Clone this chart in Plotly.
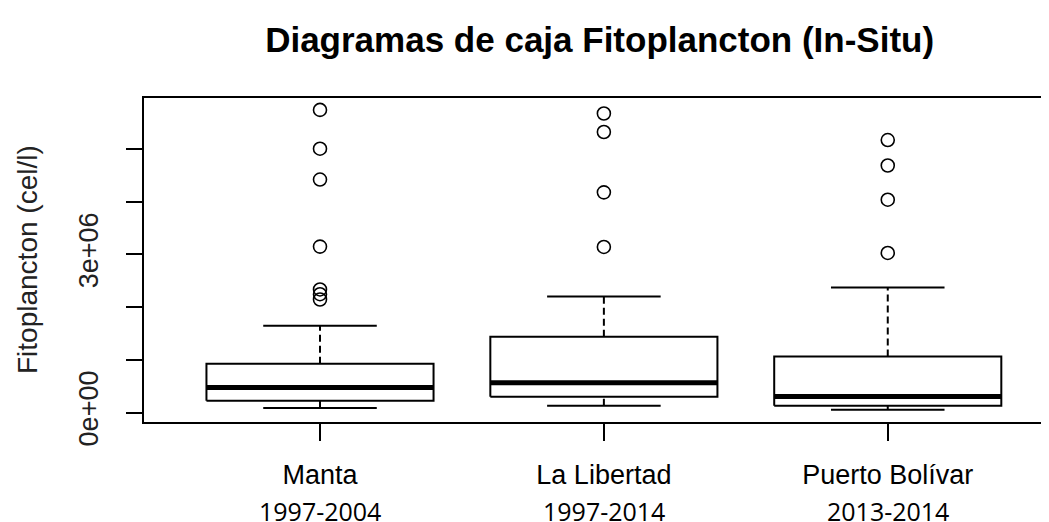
import plotly.graph_objects as go

# values in cells per litre
stations = ["Manta", "La Libertad", "Puerto Bolívar"]
periods = ["1997-2004", "1997-2014", "2013-2014"]
low_whisker = [0.084e6, 0.128e6, 0.052e6]
q1 = [0.223e6, 0.300e6, 0.128e6]
median = [0.477e6, 0.567e6, 0.305e6]
q3 = [0.924e6, 1.439e6, 1.063e6]
high_whisker = [1.649e6, 2.202e6, 2.374e6]
outliers = [
    [5.744e6, 5.008e6, 4.422e6, 3.149e6, 2.336e6, 2.246e6, 2.145e6],
    [5.676e6, 5.324e6, 4.179e6, 3.143e6],
    [5.172e6, 4.689e6, 4.040e6, 3.029e6],
]
y_ticks = [0, 1e6, 2e6, 3e6, 4e6, 5e6]
y_tick_text = ["0e+00", "", "", "3e+06", "", ""]

BOX_HALF = 0.4
CAP_HALF = 0.2
LINE = dict(color="black", width=2)

fig = go.Figure()

for i in range(len(stations)):
    x0 = i + 1
    # box
    fig.add_trace(
        go.Scatter(
            x=[x0 - BOX_HALF, x0 + BOX_HALF, x0 + BOX_HALF, x0 - BOX_HALF, x0 - BOX_HALF],
            y=[q1[i], q1[i], q3[i], q3[i], q1[i]],
            mode="lines",
            line=LINE,
        )
    )
    # median
    fig.add_trace(
        go.Scatter(
            x=[x0 - BOX_HALF, x0 + BOX_HALF],
            y=[median[i], median[i]],
            mode="lines",
            line=dict(color="black", width=5),
        )
    )
    # whiskers (dashed)
    for a, b in [(q3[i], high_whisker[i]), (low_whisker[i], q1[i])]:
        fig.add_trace(
            go.Scatter(
                x=[x0, x0],
                y=[a, b],
                mode="lines",
                line=dict(color="black", width=2, dash="7px,4px"),
            )
        )
    # staples
    for v in [low_whisker[i], high_whisker[i]]:
        fig.add_trace(
            go.Scatter(
                x=[x0 - CAP_HALF, x0 + CAP_HALF],
                y=[v, v],
                mode="lines",
                line=LINE,
            )
        )
    # outliers
    fig.add_trace(
        go.Scatter(
            x=[x0] * len(outliers[i]),
            y=outliers[i],
            mode="markers",
            marker=dict(
                symbol="circle-open", size=13, color="black", line=dict(width=1.6)
            ),
        )
    )

for i, p in enumerate(periods):
    fig.add_annotation(
        x=i + 1,
        y=0,
        xref="x",
        yref="paper",
        yshift=-89,
        yanchor="middle",
        text=p,
        showarrow=False,
        font=dict(family="Open Sans", size=25, color="black"),
    )

fig.add_annotation(
    x=0,
    y=0.5,
    xref="paper",
    yref="paper",
    xanchor="center",
    yanchor="middle",
    xshift=-117,
    text="Fitoplancton (cel/l)",
    textangle=-90,
    showarrow=False,
    font=dict(family="Liberation Sans", size=28, color="#222222"),
)

# page body has an 8px margin, so layout pixels are offset by that
fig.update_layout(
    width=1049,
    height=522,
    showlegend=False,
    plot_bgcolor="white",
    paper_bgcolor="white",
    margin=dict(l=136, r=8, t=90, b=108, autoexpand=False),
    title=dict(
        text="<b>Diagramas de caja Fitoplancton (In-Situ)</b>",
        x=0.564,
        xanchor="center",
        y=1 - 32 / 522,
        yanchor="middle",
        yref="container",
        font=dict(family="Liberation Sans", size=35, color="black"),
    ),
    font=dict(family="Liberation Sans", color="black"),
    xaxis=dict(
        range=[0.38, 3.568],
        tickvals=[1, 2, 3],
        ticktext=stations,
        ticks="outside",
        ticklen=17,
        tickwidth=2,
        tickcolor="black",
        ticklabelstandoff=11,
        tickfont=dict(family="Liberation Sans", size=27, color="black"),
        showline=True,
        linecolor="black",
        linewidth=2,
        mirror=True,
        showgrid=False,
        zeroline=False,
        automargin=False,
    ),
    yaxis=dict(
        range=[-0.18e6, 5.97e6],
        tickvals=y_ticks,
        ticktext=y_tick_text,
        tickangle=-90,
        ticks="outside",
        ticklen=16,
        tickwidth=2,
        tickcolor="black",
        ticklabelstandoff=17,
        tickfont=dict(family="Liberation Sans", size=27, color="#222222"),
        showline=True,
        linecolor="black",
        linewidth=2,
        showgrid=False,
        zeroline=False,
        automargin=False,
    ),
)

fig.write_html("out.html")
